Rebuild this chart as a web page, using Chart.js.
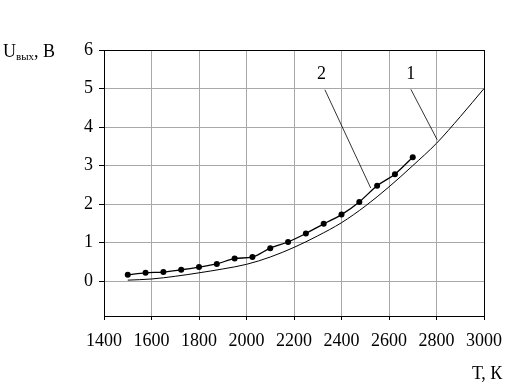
<!DOCTYPE html>
<html>
<head>
<meta charset="utf-8">
<script src="https://cdn.jsdelivr.net/npm/chart.js@4/dist/chart.umd.min.js"></script>
<style>
  body { margin: 0; background: #fff; }
  canvas { display: block; }
</style>
</head>
<body>
<canvas id="myChart" width="525" height="386"></canvas>
<script>
// curve 1 (calculated, no markers)
var curve1T = [1500, 1600, 1700, 1800, 1900, 2000, 2100, 2200, 2300, 2400, 2500, 2600, 2700, 2800, 2900, 3000];
var curve1U = [0.03, 0.06, 0.13, 0.22, 0.32, 0.44, 0.63, 0.88, 1.18, 1.52, 1.95, 2.45, 3.0, 3.58, 4.27, 5.0];

// curve 2 (measured, with markers)
var curve2T = [1500, 1575, 1650, 1725, 1800, 1875, 1950, 2025, 2100, 2175, 2250, 2325, 2400, 2475, 2550, 2625, 2700];
var curve2U = [0.17, 0.22, 0.24, 0.30, 0.37, 0.45, 0.59, 0.63, 0.86, 1.02, 1.24, 1.49, 1.73, 2.06, 2.48, 2.78, 3.22];

var xTicks = [1400, 1600, 1800, 2000, 2200, 2400, 2600, 2800, 3000];
var yTicks = [0, 1, 2, 3, 4, 5, 6];

// curve labels and their leader lines, in data units
var curveLabels = ["1", "2"];
var labelPos = [[2692, 5.36], [2316, 5.36]];
var leaderFrom = [[2692, 4.98], [2330, 4.97]];
var leaderTo = [[2803, 3.67], [2523, 2.42]];

var serif = "'Liberation Serif', 'Times New Roman', serif";

function toPoints(xs, ys) {
    var pts = [];
    for (var i = 0; i < xs.length; i++) {
        pts.push({ x: xs[i], y: ys[i] });
    }
    return pts;
}

var extras = {
    id: "extras",
    afterDatasetsDraw: function (chart) {
        var ctx = chart.ctx;
        var a = chart.chartArea;
        var xs = chart.scales.x;
        var ys = chart.scales.y;
        ctx.save();
        // frame around plot area
        ctx.strokeStyle = "#000";
        ctx.lineWidth = 1;
        ctx.strokeRect(Math.round(a.left) + 0.5, Math.round(a.top) + 0.5,
            Math.round(a.right - a.left), Math.round(a.bottom - a.top));

        // leader lines and curve numbers
        ctx.lineWidth = 0.8;
        ctx.font = "18px " + serif;
        ctx.fillStyle = "#000";
        ctx.textAlign = "center";
        ctx.textBaseline = "middle";
        for (var i = 0; i < curveLabels.length; i++) {
            ctx.beginPath();
            ctx.moveTo(xs.getPixelForValue(leaderFrom[i][0]), ys.getPixelForValue(leaderFrom[i][1]));
            ctx.lineTo(xs.getPixelForValue(leaderTo[i][0]), ys.getPixelForValue(leaderTo[i][1]));
            ctx.stroke();
            ctx.fillText(curveLabels[i], xs.getPixelForValue(labelPos[i][0]), ys.getPixelForValue(labelPos[i][1]));
        }

        // axis titles
        ctx.textAlign = "left";
        ctx.textBaseline = "alphabetic";
        var x = 3;
        ctx.font = "18px " + serif;
        ctx.fillText("U", x, 57);
        x += ctx.measureText("U").width;
        ctx.font = "11px " + serif;
        ctx.fillText("вых", x, 60);
        x += ctx.measureText("вых").width;
        ctx.font = "18px " + serif;
        ctx.fillText(", В", x, 57);
        ctx.fillText("Т, К", 472, 379);
        ctx.restore();
    }
};

var ctx = document.getElementById("myChart").getContext("2d");
var chart = new Chart(ctx, {
    type: "line",
    data: {
        datasets: [
            {
                label: "1",
                data: toPoints(curve1T, curve1U),
                borderColor: "#000",
                borderWidth: 1,
                pointRadius: 0,
                fill: false,
                cubicInterpolationMode: "monotone"
            },
            {
                label: "2",
                data: toPoints(curve2T, curve2U),
                borderColor: "#000",
                borderWidth: 1.3,
                pointRadius: 3,
                pointBackgroundColor: "#000",
                pointBorderColor: "#000",
                pointBorderWidth: 0,
                fill: false,
                cubicInterpolationMode: "monotone"
            }
        ]
    },
    options: {
        responsive: false,
        animation: false,
        devicePixelRatio: 1,
        layout: { padding: { left: 0, right: 41, top: 50, bottom: 0 } },
        plugins: {
            legend: { display: false },
            tooltip: { enabled: false }
        },
        scales: {
            x: {
                type: "linear",
                min: 1400,
                max: 3000,
                afterBuildTicks: function (scale) {
                    scale.ticks = xTicks.map(function (v) { return { value: v }; });
                },
                afterFit: function (scale) { scale.height = 70; },
                grid: { color: "#a8a8a8", tickColor: "#000", tickLength: 4, lineWidth: 1 },
                border: { color: "#000", width: 1 },
                ticks: {
                    color: "#000", padding: 10, maxRotation: 0,
                    font: { family: serif, size: 18 },
                    callback: function (v) { return String(v); }
                }
            },
            y: {
                type: "linear",
                min: -0.9,
                max: 6,
                afterBuildTicks: function (scale) {
                    scale.ticks = yTicks.map(function (v) { return { value: v }; });
                },
                afterFit: function (scale) { scale.width = 104; },
                grid: { color: "#a8a8a8", tickColor: "#000", tickLength: 5, lineWidth: 1 },
                border: { color: "#000", width: 1 },
                ticks: {
                    color: "#000", padding: 6,
                    font: { family: serif, size: 18 },
                    callback: function (v) { return String(v); }
                }
            }
        }
    },
    plugins: [extras]
});
</script>
</body>
</html>
